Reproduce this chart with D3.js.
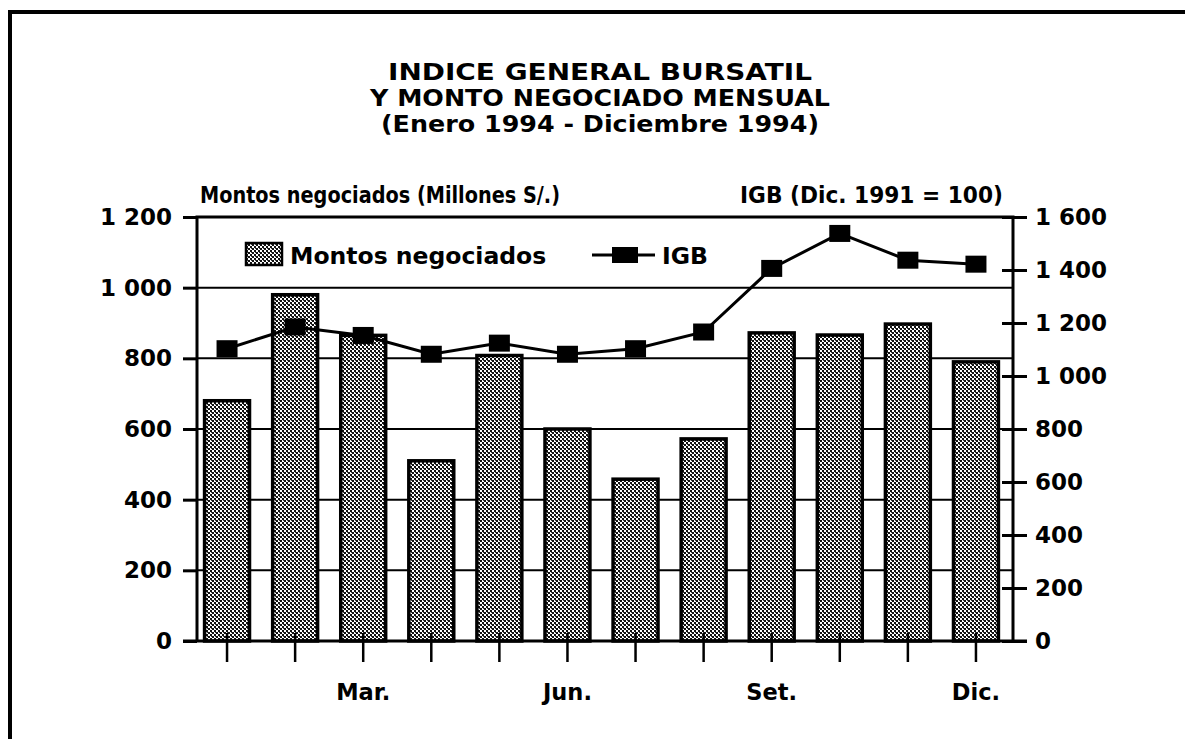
<!DOCTYPE html>
<html>
<head>
<meta charset="utf-8">
<script src="https://cdn.jsdelivr.net/npm/d3@7"></script>
<style>
  body { margin: 0; background: #fff; }
  svg text { font-family: "DejaVu Sans", sans-serif; font-weight: bold; fill: #000; }
</style>
</head>
<body>
<svg id="chart" width="1185" height="739"></svg>
<script>
// data
const months = ["Ene.", "Feb.", "Mar.", "Abr.", "May.", "Jun.", "Jul.", "Ago.", "Set.", "Oct.", "Nov.", "Dic."];
const shownMonths = ["Mar.", "Jun.", "Set.", "Dic."];
const montos = [680, 980, 865, 510, 808, 600, 458, 572, 872, 866, 897, 790];
const igb = [1103, 1185, 1153, 1082, 1124, 1082, 1103, 1166, 1406, 1538, 1437, 1422];
const leftTicks = [0, 200, 400, 600, 800, 1000, 1200];
const rightTicks = [0, 200, 400, 600, 800, 1000, 1200, 1400, 1600];
const titleLines = ["INDICE GENERAL BURSATIL", "Y MONTO NEGOCIADO MENSUAL", "(Enero 1994 - Diciembre 1994)"];
const titleWidths = [424, 460, 438];

const svg = d3.select("#chart");

const plotLeft = 197, plotRight = 1013, plotTop = 217, plotBottom = 641;

const fmt = d3.formatLocale({ decimal: ",", thousands: " ", grouping: [3], currency: ["", ""] }).format(",");

const x = d3.scaleBand()
    .domain(months)
    .range([193, 1010])
    .paddingInner(0.34)
    .paddingOuter(0.17);

const yL = d3.scaleLinear().domain([0, 1200]).range([plotBottom, plotTop]);
const yR = d3.scaleLinear().domain([0, 1600]).range([plotBottom, plotTop]);

// dotted fill for the bars
const defs = svg.append("defs");
const pat = defs.append("pattern")
    .attr("id", "dots")
    .attr("width", 4).attr("height", 4)
    .attr("patternUnits", "userSpaceOnUse");
pat.append("rect").attr("width", 4).attr("height", 4).attr("fill", "#fff");
pat.append("rect").attr("width", 2).attr("height", 2).attr("fill", "#111");
pat.append("rect").attr("x", 2).attr("y", 2).attr("width", 2).attr("height", 2).attr("fill", "#111");
pat.append("rect").attr("x", 3).attr("y", 0).attr("width", 1).attr("height", 1).attr("fill", "#444");

// outer frame
svg.append("path")
    .attr("d", "M10,739 V12 H1185")
    .attr("fill", "none")
    .attr("stroke", "#000")
    .attr("stroke-width", 4);

// titles
svg.selectAll(".title")
    .data(titleLines)
    .enter()
    .append("text")
    .attr("class", "title")
    .attr("x", 600)
    .attr("y", (d, i) => 80 + i * 26)
    .attr("text-anchor", "middle")
    .attr("textLength", (d, i) => titleWidths[i])
    .attr("lengthAdjust", "spacingAndGlyphs")
    .style("font-size", "23px")
    .text(d => d);

svg.append("text")
    .attr("x", 200).attr("y", 203)
    .attr("textLength", 360)
    .attr("lengthAdjust", "spacingAndGlyphs")
    .style("font-size", "22.5px")
    .text("Montos negociados (Millones S/.)");

svg.append("text")
    .attr("x", 740).attr("y", 203)
    .attr("textLength", 263)
    .attr("lengthAdjust", "spacingAndGlyphs")
    .style("font-size", "22.5px")
    .text("IGB (Dic. 1991 = 100)");

// gridlines
svg.append("g")
    .selectAll("line")
    .data(leftTicks.filter(d => d > 0 && d < 1200))
    .enter()
    .append("line")
    .attr("x1", plotLeft).attr("x2", plotRight)
    .attr("y1", d => yL(d)).attr("y2", d => yL(d))
    .attr("stroke", "#000")
    .attr("stroke-width", 2);

// bars
svg.append("g")
    .selectAll("rect")
    .data(months)
    .enter()
    .append("rect")
    .attr("x", d => x(d))
    .attr("y", (d, i) => yL(montos[i]))
    .attr("width", x.bandwidth())
    .attr("height", (d, i) => plotBottom - yL(montos[i]))
    .attr("fill", "url(#dots)")
    .attr("stroke", "#000")
    .attr("stroke-width", 3.5);

// plot frame
svg.append("path")
    .attr("d", `M${plotLeft},${plotBottom} V${plotTop} H${plotRight} V${plotBottom}`)
    .attr("fill", "none")
    .attr("stroke", "#000")
    .attr("stroke-width", 3);
svg.append("line")
    .attr("x1", 183).attr("x2", 1027)
    .attr("y1", plotBottom).attr("y2", plotBottom)
    .attr("stroke", "#000")
    .attr("stroke-width", 3);

// left axis
const gL = svg.append("g")
    .attr("transform", `translate(${plotLeft},0)`)
    .call(d3.axisLeft(yL).tickValues(leftTicks).tickFormat(fmt).tickSize(14).tickPadding(11));
gL.select(".domain").remove();
gL.selectAll("line").attr("stroke-width", 3);
gL.selectAll("text").style("font-size", "23px").attr("fill", "#000");

// right axis
const gR = svg.append("g")
    .attr("transform", `translate(${plotRight},0)`)
    .call(d3.axisRight(yR).tickValues(rightTicks).tickFormat(fmt).tickSize(14).tickPadding(8));
gR.select(".domain").remove();
gR.selectAll("line").attr("x1", -11).attr("stroke-width", 3);
gR.selectAll("text").style("font-size", "23px").attr("fill", "#000");

// bottom axis
const gB = svg.append("g")
    .attr("transform", `translate(0,${plotBottom})`)
    .call(d3.axisBottom(x).tickSize(21).tickPadding(22).tickFormat(d => shownMonths.includes(d) ? d : ""));
gB.select(".domain").remove();
gB.selectAll("line").attr("y1", -8).attr("stroke-width", 2.5);
gB.selectAll("text").style("font-size", "22.5px").attr("fill", "#000");

// IGB line
const line = d3.line()
    .x((d, i) => x(months[i]) + x.bandwidth() / 2)
    .y(d => yR(d));

svg.append("path")
    .datum(igb)
    .attr("d", line)
    .attr("fill", "none")
    .attr("stroke", "#000")
    .attr("stroke-width", 3);

svg.append("g")
    .selectAll("rect")
    .data(igb)
    .enter()
    .append("rect")
    .attr("x", (d, i) => x(months[i]) + x.bandwidth() / 2 - 10.5)
    .attr("y", d => yR(d) - 8.5)
    .attr("width", 21)
    .attr("height", 17)
    .attr("fill", "#000");

// legend
const leg = svg.append("g");
leg.append("rect")
    .attr("x", 246).attr("y", 243)
    .attr("width", 36).attr("height", 22)
    .attr("fill", "url(#dots)")
    .attr("stroke", "#000")
    .attr("stroke-width", 2.5);
leg.append("text")
    .attr("x", 290).attr("y", 264)
    .style("font-size", "23.5px")
    .text("Montos negociados");
leg.append("line")
    .attr("x1", 592).attr("x2", 655)
    .attr("y1", 255).attr("y2", 255)
    .attr("stroke", "#000")
    .attr("stroke-width", 3);
leg.append("rect")
    .attr("x", 612).attr("y", 247)
    .attr("width", 26).attr("height", 16)
    .attr("fill", "#000");
leg.append("text")
    .attr("x", 662).attr("y", 264)
    .style("font-size", "23.5px")
    .text("IGB");
</script>
</body>
</html>
